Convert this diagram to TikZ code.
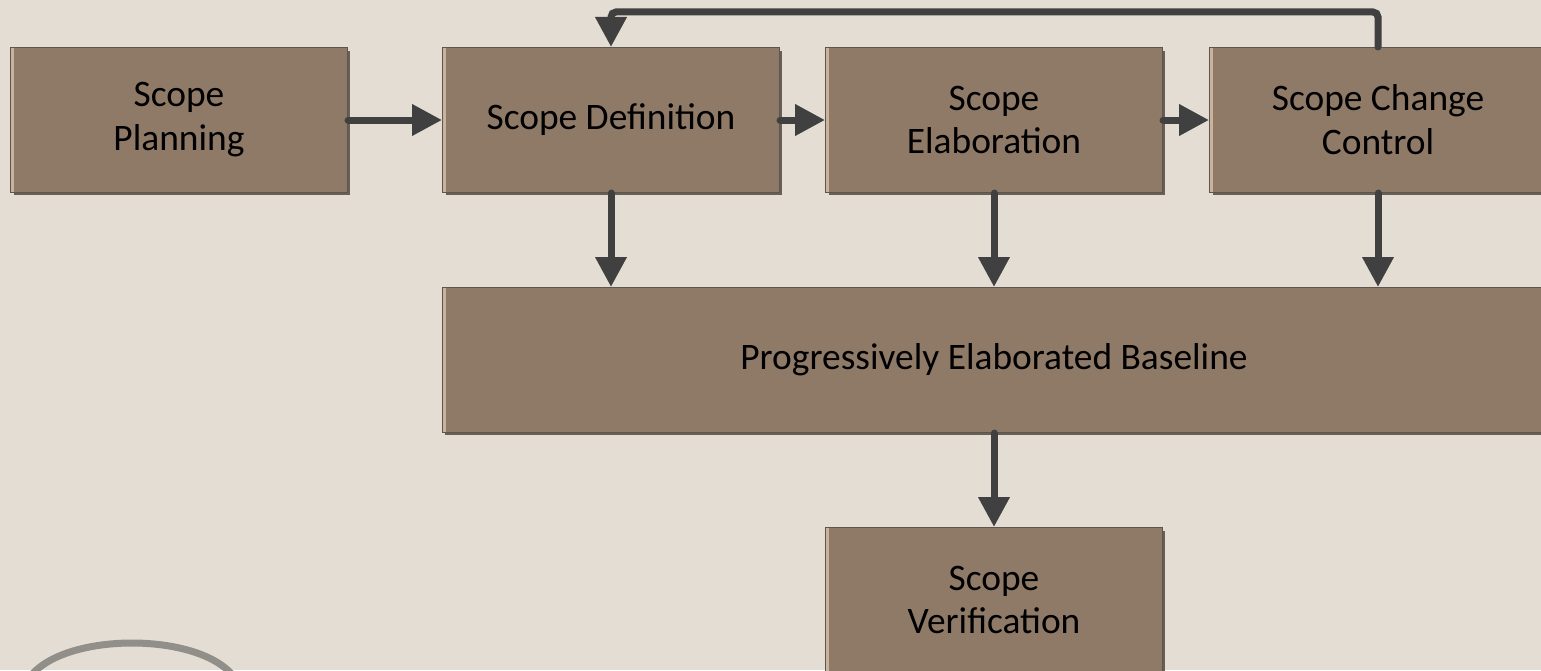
\documentclass[tikz,border=0pt]{standalone}
\usepackage{fontspec}
\setmainfont{Carlito}
\usetikzlibrary{arrows.meta,shadows}
\definecolor{paperBg}{HTML}{E4DDD3}
\definecolor{stageFill}{HTML}{8F7A68}
\definecolor{stageEdge}{HTML}{5C5550}
\definecolor{stageShade}{HTML}{6A5F55}
\definecolor{stageLight}{HTML}{C9B39C}
\definecolor{arrowGrey}{HTML}{404040}
\definecolor{rimGrey}{HTML}{918F8A}
\newlength\boxWidth
\newlength\boxHeight
\setlength\boxWidth{6.74cm}
\setlength\boxHeight{2.9cm}
\tikzset{
  stageBox/.style={
    draw=stageEdge,
    line width=0.6pt,
    fill=stageFill,
    drop shadow={shadow xshift=0.06cm,shadow yshift=-0.06cm,fill=stageShade,opacity=1},
    path picture={
      \fill[stageLight] (path picture bounding box.north west)
        rectangle ([xshift=0.07cm]path picture bounding box.south west);
    },
    minimum width=\boxWidth,
    minimum height=\boxHeight,
    inner sep=0pt,
    align=center,
    font=\fontsize{21.3}{25}\selectfont
  },
  flowArrow/.style={
    draw=arrowGrey,
    line width=0.14cm,
    line cap=round,
    -{Triangle[length=0.6cm,width=0.6cm]}
  }
}

\begin{document}
\begin{tikzpicture}[x=0.02cm,y=-0.02cm]
    % page and background
    \useasboundingbox (0,0) rectangle (1541,670);
    \clip (0,0) rectangle (1541,670);
    \fill[paperBg] (0,0) rectangle (1541,670);

    % rim of the photo in the corner
    \draw[rimGrey, line width=0.14cm]
      (22,700) .. controls (22,624) and (242,624) .. (242,700);

    % stages
    \node[stageBox] (plan)   at (179,120)  {Scope\\Planning};
    \node[stageBox] (def)    at (611,120)  {Scope Definition};
    \node[stageBox] (elab)   at (994,120)  {Scope\\Elaboration};
    \node[stageBox] (change) at (1378,120) {Scope Change\\Control};
    \node[stageBox, minimum width=22.08cm] (base) at (994,360)
      {Progressively Elaborated Baseline};
    \node[stageBox] (verif)  at (994,600)  {Scope\\Verification};

    % flow along the top row
    \draw[flowArrow] (plan) -- (def);
    \draw[flowArrow] (def) -- (elab);
    \draw[flowArrow] (elab) -- (change);

    % feedback loop
    \draw[flowArrow, rounded corners=0.1cm]
      (change.north) -- ++(0,-35) -| (def.north);

    % into the baseline
    \foreach \stage in {def,elab,change} {
      \draw[flowArrow] (\stage.south) -- (\stage.south |- base.north);
    }
    \draw[flowArrow] (verif.north |- base.south) -- (verif.north);
\end{tikzpicture}
\end{document}
